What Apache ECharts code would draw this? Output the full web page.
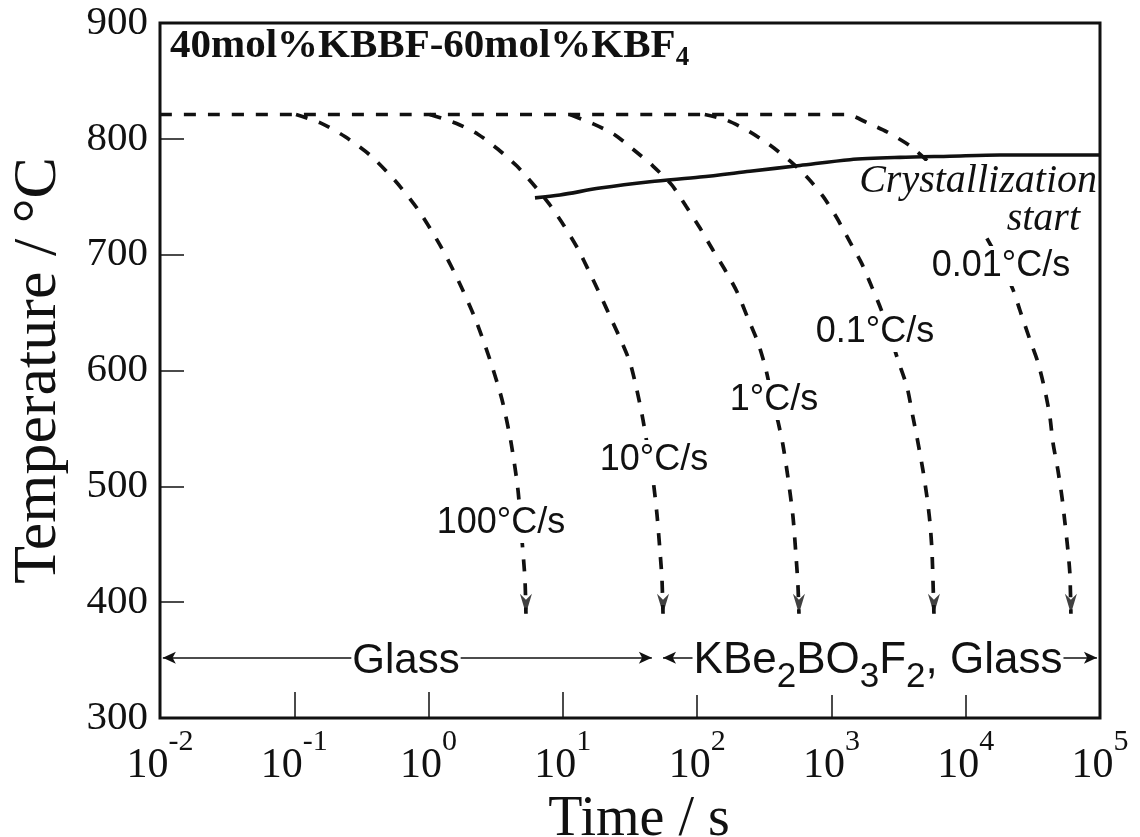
<!DOCTYPE html>
<html>
<head>
<meta charset="utf-8">
<title>KBBF-KBF4 continuous cooling diagram</title>
<script src="https://cdn.jsdelivr.net/npm/echarts@6/dist/echarts.min.js"></script>
<style>
  html, body { margin: 0; padding: 0; background: #fff; }
  #chart { width: 1140px; height: 837px; }
</style>
</head>
<body>
<div id="chart"></div>
<script>
// Cooling curves: [time (s), temperature (°C)]
const rate100 = [
  [0.103, 821], [0.155, 814], [0.238, 802], [0.366, 786], [0.562, 764], [0.834, 739],
  [1.22, 708], [1.66, 678], [2.22, 645], [2.87, 609], [3.52, 575], [4.11, 538],
  [4.63, 497], [4.96, 454], [5.22, 420], [5.31, 390]
];
const rate10 = [
  [1.02, 821], [1.60, 813.5], [2.33, 804], [3.29, 791], [4.55, 776.5], [5.99, 761],
  [7.88, 744], [10.2, 725], [12.95, 705], [15.9, 684], [19.2, 664], [22.8, 645],
  [27.1, 626], [31.6, 607], [35.6, 583], [39.5, 557.5], [43.0, 532], [46.9, 506],
  [50.2, 476], [52.8, 445], [54.7, 420], [55.7, 390]
];
const rate1 = [
  [11.3, 821], [17.0, 812.7], [24.0, 804], [33.3, 791], [46.9, 776.5], [64.9, 760],
  [82.5, 742], [105, 723], [131, 704], [161, 687], [198, 668], [239, 645],
  [284, 624], [325, 601], [361, 576.5], [400, 556], [435, 536], [474, 508],
  [517, 474], [544, 441], [563, 415], [573, 390]
];
const rate01 = [
  [114, 821], [167, 816], [247, 806], [348, 794.6], [491, 781], [657, 767],
  [864, 750.6], [1099, 731.6], [1373, 711], [1687, 692], [2002, 672], [2337, 653],
  [2726, 631], [3128, 609], [3650, 586], [4045, 560], [4407, 538], [4801, 514],
  [5144, 491], [5414, 469], [5603, 445], [5700, 420], [5799, 390]
];
// the slowest curve also carries the common holding line from the left edge
const rate001 = [
  [0.01, 821], [1304, 821], [1838, 814], [2590, 806], [3841, 794], [5414, 779],
  [9000, '-'],
  [14380, 714], [17970, 694], [22460, 670], [25330, 652], [30080, 626.5], [34480, 607],
  [38880, 583], [42370, 560], [44600, 538], [48600, 514], [52040, 491], [54770, 469],
  [57680, 445], [59690, 424], [60720, 390]
];
const crystallizationStart = [
  [6.20, 749], [9.52, 751.5], [18.9, 757.5], [44.5, 763], [105, 767], [247, 772],
  [583, 777], [1373, 782], [3236, 784], [7626, 785], [17970, 786], [100000, 786]
];

const coolingRateNames = ['100°C/s', '10°C/s', '1°C/s', '0.1°C/s', '0.01°C/s'];
const coolingCurves = [rate100, rate10, rate1, rate01, rate001];

// product ranges along the time axis, drawn as double arrows
const glassRange = [0.0105, 46];
const crystalGlassRange = [55.7, 94900];
const rangeArrowTemp = 352;

const timeTickExponents = ['-2', '-1', '0', '1', '2', '3', '4', '5'];
const tempTicks = [300, 400, 500, 600, 700, 800, 900];

const INK = '#111';
const SERIF = '"Liberation Serif", "DejaVu Serif", serif';
const SANS = '"Liberation Sans", Arial, sans-serif';

const chart = echarts.init(document.getElementById('chart'), null, { renderer: 'canvas' });

const curveSeries = coolingCurves.map((data, i) => ({
  type: 'line',
  name: coolingRateNames[i],
  data: data,
  showSymbol: false,
  smooth: 0.25,
  connectNulls: false,
  lineStyle: { color: INK, width: 3.7, type: [12, 12] },
  z: 3
}));

const arrowTips = coolingCurves.map(c => c[c.length - 1]);

function rateLabel(text, x, y) {
  return {
    type: 'text', x: x, y: y, z: 20,
    style: {
      text: text, fill: INK, fontFamily: SANS, fontSize: 36,
      align: 'center', verticalAlign: 'middle',
      backgroundColor: '#fff', padding: [2, 3]
    }
  };
}

const option = {
  animation: false,
  backgroundColor: '#fff',
  grid: {
    left: 160, right: 40, top: 23, bottom: 119,
    show: true, borderColor: INK, borderWidth: 3,
    containLabel: false, outerBoundsMode: 'none'
  },
  xAxis: {
    type: 'log', logBase: 10, min: 0.01, max: 100000, splitNumber: 7,
    axisLine: { show: false },
    axisTick: { show: true, inside: true, length: 26, lineStyle: { color: INK, width: 1.5 } },
    minorTick: { show: false },
    splitLine: { show: false },
    axisLabel: {
      margin: 9,
      hideOverlap: false,
      formatter: function (v) {
        const i = Math.round(Math.log10(v)) + 2;
        return '{b|10}{e|' + timeTickExponents[i] + '}';
      },
      rich: {
        b: { fontFamily: SERIF, fontSize: 42, color: INK, lineHeight: 60, verticalAlign: 'bottom' },
        e: { fontFamily: SERIF, fontSize: 30, color: INK, lineHeight: 30, verticalAlign: 'top' }
      }
    },
    name: 'Time / s',
    nameLocation: 'middle',
    nameGap: 60,
    nameTextStyle: { fontFamily: SERIF, fontSize: 56, color: INK, padding: [0, 0, 0, 18] }
  },
  yAxis: {
    type: 'value', min: tempTicks[0], max: tempTicks[tempTicks.length - 1], interval: 100,
    axisLine: { show: false },
    axisTick: { show: true, inside: true, length: 24, lineStyle: { color: INK, width: 1.5 } },
    splitLine: { show: false },
    axisLabel: {
      margin: 12,
      fontFamily: SERIF, fontSize: 41, color: INK,
      padding: [14, 0, 0, 0]
    },
    name: 'Temperature / °C',
    nameLocation: 'middle',
    nameRotate: 90,
    nameGap: 90,
    nameTextStyle: { fontFamily: SERIF, fontSize: 62, color: INK }
  },
  series: curveSeries.concat([
    {
      type: 'line',
      name: 'Crystallization start',
      data: crystallizationStart,
      showSymbol: false,
      smooth: 0.3,
      lineStyle: { color: INK, width: 3.6, type: 'solid' },
      z: 4
    },
    {
      type: 'scatter',
      name: 'arrow tips',
      data: arrowTips,
      symbol: 'path://M0,0 L6,20 L12,0 L6,6 Z',
      symbolSize: [12, 20],
      symbolOffset: [0, '-50%'],
      itemStyle: { color: INK },
      z: 5
    },
    {
      type: 'line',
      name: 'product ranges',
      data: [],
      markLine: {
        silent: true,
        animation: false,
        symbol: ['arrow', 'arrow'],
        symbolSize: [9, 13],
        label: { show: false },
        lineStyle: { color: INK, width: 1.6, type: 'solid' },
        data: [
          [{ coord: [glassRange[0], rangeArrowTemp] }, { coord: [glassRange[1], rangeArrowTemp] }],
          [{ coord: [crystalGlassRange[0], rangeArrowTemp] }, { coord: [crystalGlassRange[1], rangeArrowTemp] }]
        ]
      }
    }
  ]),
  graphic: [
    {
      type: 'text', x: 170, y: 49, z: 20,
      style: {
        text: '{t|40mol%KBBF-60mol%KBF}{s|4}',
        verticalAlign: 'middle', align: 'left',
        rich: {
          t: { fontFamily: SERIF, fontWeight: 'bold', fontSize: 41, fill: INK, color: INK, lineHeight: 46, verticalAlign: 'top' },
          s: { fontFamily: SERIF, fontWeight: 'bold', fontSize: 27, fill: INK, color: INK, lineHeight: 46, verticalAlign: 'bottom', padding: [14, 0, 0, 0] }
        }
      }
    },
    {
      type: 'text', x: 1097, y: 181, z: 20,
      style: {
        text: 'Crystallization', fill: INK, fontFamily: SERIF, fontStyle: 'italic', fontSize: 40,
        align: 'right', verticalAlign: 'middle', backgroundColor: '#fff', padding: [0, 0]
      }
    },
    {
      type: 'text', x: 1080, y: 219, z: 20,
      style: {
        text: 'start', fill: INK, fontFamily: SERIF, fontStyle: 'italic', fontSize: 40,
        align: 'right', verticalAlign: 'middle', backgroundColor: '#fff', padding: [0, 0]
      }
    },
    rateLabel(coolingRateNames[0], 501, 523),
    rateLabel(coolingRateNames[1], 654, 460),
    rateLabel(coolingRateNames[2], 774, 400),
    rateLabel(coolingRateNames[3], 875, 332),
    rateLabel(coolingRateNames[4], 1001, 266),
    {
      type: 'text', x: 406, y: 661, z: 20,
      style: {
        text: 'Glass', fill: INK, fontFamily: SANS, fontSize: 42,
        align: 'center', verticalAlign: 'middle', backgroundColor: '#fff', padding: [0, 1]
      }
    },
    {
      type: 'text', x: 878, y: 667, z: 20,
      style: {
        text: '{m|KBe}{u|2}{m|BO}{u|3}{m|F}{u|2}{m|, Glass}',
        align: 'center', verticalAlign: 'middle', backgroundColor: '#fff', padding: [0, 1],
        rich: {
          m: { fontFamily: SANS, fontSize: 44, color: INK, fill: INK, lineHeight: 56, verticalAlign: 'top' },
          u: { fontFamily: SANS, fontSize: 35, color: INK, fill: INK, lineHeight: 56, verticalAlign: 'bottom' }
        }
      }
    }
  ]
};

chart.setOption(option);
</script>
</body>
</html>
